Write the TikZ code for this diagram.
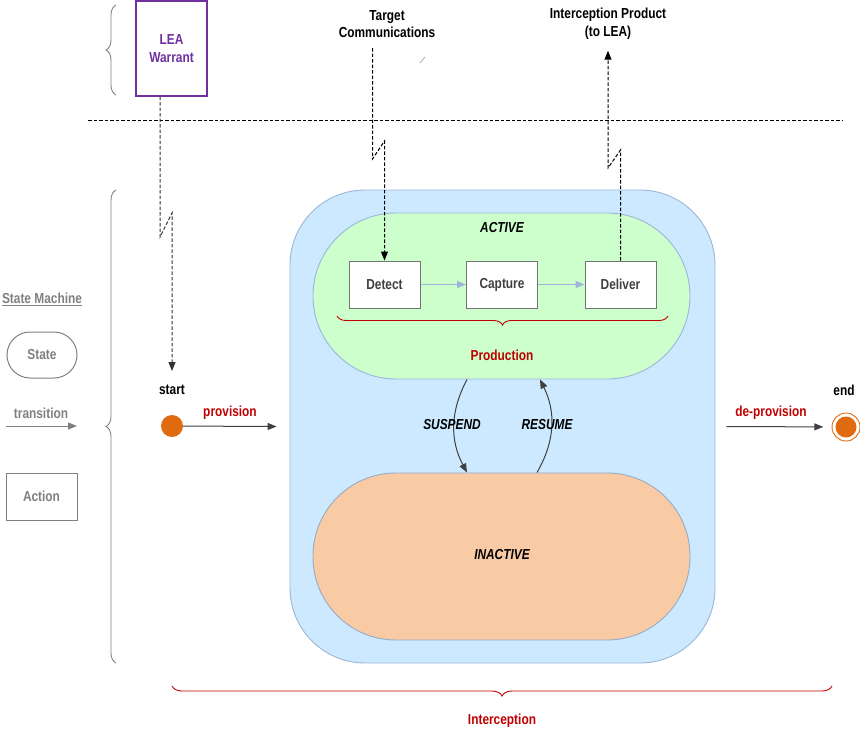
\documentclass[tikz,border=0pt]{standalone}
\usepackage{fontspec}
\setmainfont{Liberation Sans}[FakeStretch=0.82]
\usetikzlibrary{positioning,decorations.pathreplacing,arrows.meta}
\definecolor{outerblue}{HTML}{CCE9FF}
\definecolor{outerline}{HTML}{9CB6D8}
\definecolor{activegreen}{HTML}{CCFFCC}
\definecolor{inactivepeach}{HTML}{F8CBA4}
\definecolor{dotorange}{HTML}{DF6A10}
\definecolor{labelred}{HTML}{C00000}
\definecolor{warrantpurple}{HTML}{7030A0}
\definecolor{legendgray}{HTML}{808080}
\definecolor{flowblue}{HTML}{9FB4D6}
\tikzset{
	txt/.style={inner sep=0pt, align=center, font=\bfseries\fontsize{14.5}{17.5}\selectfont},
	redtxt/.style={txt, text=labelred},
	itxt/.style={txt, font=\bfseries\itshape\fontsize{14.5}{17.5}\selectfont},
	actionbox/.style={draw=gray!90!black, fill=white, line width=1pt, minimum width=71pt, minimum height=47pt, inner sep=0pt, txt, text=black!75},
	dashline/.style={dash pattern=on 3.5pt off 2pt, line width=1pt},
	tip/.style={-{Triangle[length=9pt,width=7pt]}},
	brc/.style={decorate, decoration={brace, amplitude=#1}, line width=0.9pt},
}
\begin{document}
\begin{tikzpicture}[x=1pt, y=-1pt]
	\useasboundingbox (0,0) rectangle (860,731);
	% states
	\draw (502.5,426.5) node[draw=outerline, fill=outerblue, line width=0.9pt, rounded corners=75pt, minimum width=425pt, minimum height=473pt](intercept){};
	\draw (501.5,296) node[draw=outerline, fill=activegreen, line width=0.9pt, rounded corners=83pt, minimum width=377pt, minimum height=166pt](active){};
	\draw (501.5,556.5) node[draw=outerline!80!gray, fill=inactivepeach, line width=0.9pt, rounded corners=83pt, minimum width=377pt, minimum height=167pt](inactive){};
	\draw (502,228) node[itxt](activelbl){ACTIVE};
	\draw (502,555) node[itxt](inactivelbl){INACTIVE};
	% actions
	\draw (384.5,284.5) node[actionbox](detect){Detect};
	\draw (502,284.5) node[actionbox](capture){Capture};
	\draw (620.5,284.5) node[actionbox](deliver){Deliver};
	\draw[flowblue, line width=1.3pt, tip] (detect) -- (capture);
	\draw[flowblue, line width=1.3pt, tip] (capture) -- (deliver);
	\draw[labelred, brc=9pt] (668,316) -- (337,316);
	\draw (502,355) node[redtxt](production){Production};
	% suspend / resume
	\draw[black!75, line width=1pt, tip] ([xshift=-34.5pt]active.south) to[bend right=28] ([xshift=-34.5pt]inactive.north);
	\draw[black!75, line width=1pt, tip] ([xshift=35.5pt]inactive.north) to[bend right=28] ([xshift=38.5pt]active.south);
	\draw (452,425) node[itxt](suspend){SUSPEND};
	\draw (547,425) node[itxt](resume){RESUME};
	% start and end
	\draw (172,426) node[circle, fill=dotorange, minimum size=22pt, inner sep=0pt](startdot){};
	\draw (172,390) node[txt](startlbl){start};
	\draw (846,427) node[circle, fill=dotorange, minimum size=21pt, inner sep=0pt](enddot){};
	\draw[dotorange, line width=0.9pt] (enddot) circle (14pt);
	\draw (844,390) node[txt](endlbl){end};
	\draw[black!75, line width=1pt, tip] (startdot) -- ([xshift=-13pt]intercept.west);
	\draw (230,413) node[redtxt](provision){provision};
	\draw[black!75, line width=1pt, tip, shorten >=12pt] ([xshift=11pt]intercept.east) -- (enddot);
	\draw (771,413) node[redtxt](deprovision){de-provision};
	% outside world
	\draw (171.5,48.5) node[draw=warrantpurple, line width=1.4pt, minimum width=71pt, minimum height=95pt, txt, text=warrantpurple](warrant){LEA\\Warrant};
	\draw (387,24) node[txt](target){Target\\Communications};
	\draw (608,24) node[txt](product){Interception Product\\(to LEA)};
	\draw[dashline] (88,120) -- (843,120);
	\draw[black!40, line width=0.6pt] (420,63) -- (425,57);
	\coordinate (w1) at (160,237);
	\coordinate (w2) at (172,213);
	\draw[dashline, black!80, tip] ([xshift=-11.5pt]warrant.south) -- (w1) -- (w2) -- ([yshift=14pt]startlbl.north);
	\coordinate (t0) at (372.5,48);
	\coordinate (t1) at (372.5,159);
	\coordinate (t2) at (384.5,141);
	\draw[dashline, tip] (t0) -- (t1) -- (t2) -- (detect.north);
	\coordinate (p1) at (620.5,150);
	\coordinate (p2) at (608,168);
	\draw[dashline, tip] (deliver.north) -- (p1) -- (p2) -- ([yshift=-11pt]product.south);
	% braces
	\draw[legendgray, brc=10pt] (116,95) -- (116,5);
	\draw[legendgray, brc=10pt] (116,663) -- (116,190);
	\draw[labelred, brc=10pt] (832,686) -- (172,686);
	\draw (502,721) node[redtxt](interception){Interception};
	% legend
	\draw (42,299) node[txt, text=legendgray](legend){\underline{State Machine}};
	\draw (42,355) node[draw=legendgray, line width=1pt, rounded corners=23pt, minimum width=70pt, minimum height=46pt, txt, text=legendgray](statekey){State};
	\draw (41,413) node[txt, text=legendgray](transkey){transition};
	\coordinate (k1) at (6,426);
	\coordinate (k2) at (77,426);
	\draw[legendgray, line width=1pt, tip] (k1) -- (k2);
	\draw (41.5,496.5) node[actionbox, draw=legendgray, text=legendgray](actionkey){Action};
\end{tikzpicture}
\end{document}
